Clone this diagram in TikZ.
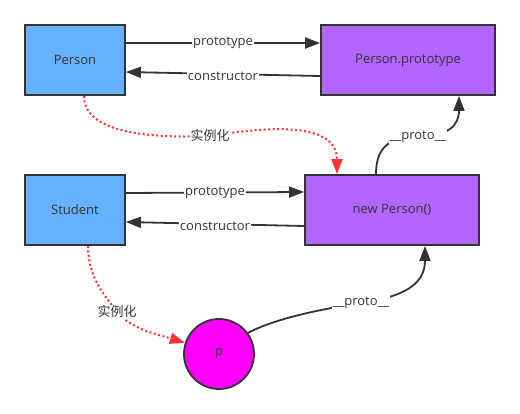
\documentclass[tikz,border=0pt]{standalone}
\usepackage{fontspec}
\setmainfont{Open Sans}
\newfontfamily\cjk{Noto Sans CJK SC}
\usetikzlibrary{arrows.meta}
\definecolor{ink}{HTML}{333333}
\definecolor{ctorblue}{HTML}{66B2FF}
\definecolor{protopurple}{HTML}{B266FF}
\definecolor{instred}{HTML}{FF3333}
\definecolor{objpink}{HTML}{FF00FF}
\tikzset{
  box/.style={draw=ink, line width=1.8pt, minimum height=70pt, text=ink, font=\fontsize{13}{15}\selectfont},
  ctor/.style={box, fill=ctorblue, minimum width=100pt},
  protobox/.style={box, fill=protopurple, minimum width=174pt},
  obj/.style={circle, draw=ink, line width=1.8pt, fill=objpink, minimum size=70pt, text=ink, font=\fontsize{13}{15}\selectfont},
  lbl/.style={fill=white, inner sep=1pt, text=ink, font=\fontsize{13}{15}\selectfont},
  link/.style={draw=ink, line width=1.8pt, -{Triangle[length=15pt,width=11pt]}},
  inst/.style={draw=instred, line width=2pt, dash pattern=on 2pt off 2.5pt, -{Triangle[length=15pt,width=11pt,fill=instred]}},
}
\begin{document}
\begin{tikzpicture}[x=1pt, y=-1pt]
  \useasboundingbox (0,0) rectangle (520,414);

  % boxes
  \node[ctor] (person) at (75,60) {Person};
  \node[protobox] (proto) at (408,60) {Person.prototype};
  \node[ctor] (student) at (75,210) {Student};
  \node[protobox] (newp) at (392,210) {new Person()};
  \node[obj] (p) at (219,354) {p};

  % prototype / constructor links
  \draw[link] ([yshift=17pt]person.east) -- node[lbl]{prototype} ([yshift=17pt]proto.west);
  \draw[link] ([yshift=-16pt]proto.west) -- node[lbl, yshift=-2pt]{constructor} ([yshift=-12pt]person.east);
  \draw[link] ([yshift=17pt]student.east) -- node[lbl]{prototype} ([yshift=18pt]newp.west);
  \draw[link] ([yshift=-16pt]newp.west) -- node[lbl, yshift=-2pt]{constructor} ([yshift=-12pt]student.east);

  % instantiation
  \draw[inst] ([xshift=9pt]person.south) .. controls +(0,40) and +(-50,2) .. (210,136)
    node[lbl]{\cjk 实例化}
    .. controls +(50,-8) and +(0,-55) .. ([xshift=-55pt]newp.north);
  \draw[inst] ([xshift=13pt]student.south) .. controls +(0,35) and +(-8,-12) .. (117,312)
    node[lbl]{\cjk 实例化}
    .. controls +(15,18) and +(-25,-8) .. (p.162);

  % __proto__ chain
  \draw[link] ([xshift=-16pt]newp.north) .. controls +(0,-30) and +(-25,0) .. (418,137)
    node[lbl]{\_\_proto\_\_}
    .. controls +(30,-1) and +(0,30) .. ([xshift=51pt]proto.south);
  \draw[link] (p.36) .. controls +(26,-14) and +(-40,6) .. (361,303)
    node[lbl]{\_\_proto\_\_}
    .. controls +(40,-6) and +(0,40) .. ([xshift=33pt]newp.south);
\end{tikzpicture}
\end{document}
